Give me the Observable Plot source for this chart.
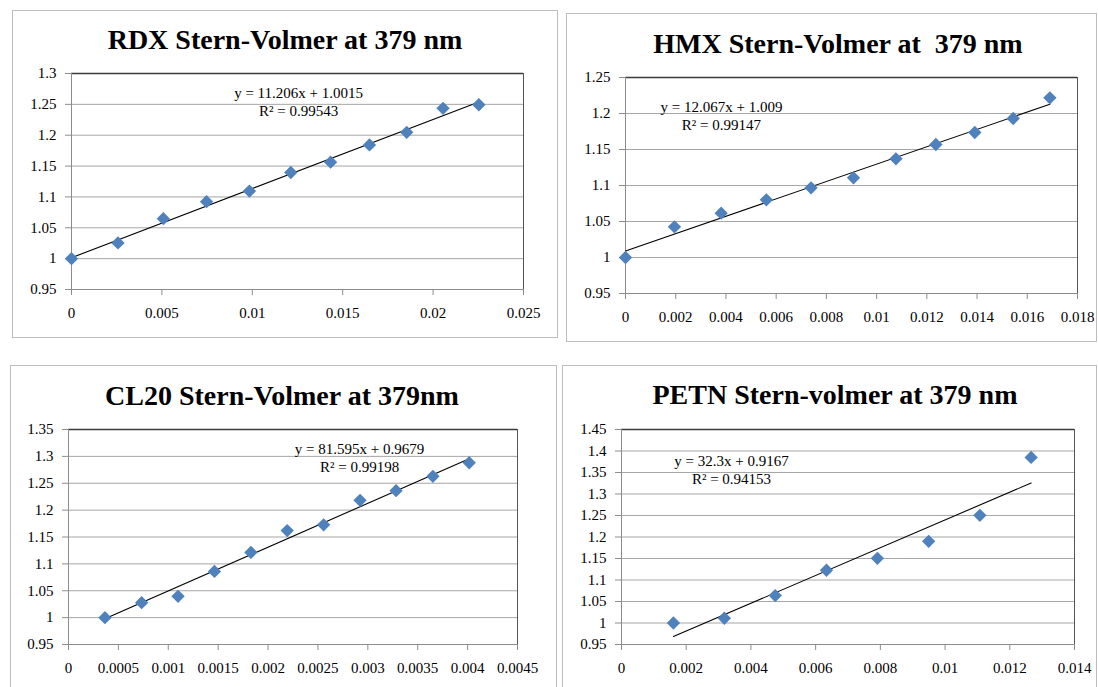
<!DOCTYPE html>
<html><head><meta charset="utf-8">
<script src="https://cdn.jsdelivr.net/npm/d3@7"></script>
<script src="https://cdn.jsdelivr.net/npm/@observablehq/plot@0.6"></script>
<style>
html,body{margin:0;padding:0;background:#fff;}
#root{position:relative;width:1098px;height:687px;overflow:hidden;font-family:"Liberation Serif",serif;}
.box{position:absolute;border:1.5px solid #bdbdbd;box-sizing:border-box;}
.title{position:absolute;width:520px;text-align:center;font-weight:bold;font-size:28px;line-height:28px;white-space:pre;color:#000;}
.chart{position:absolute;}
.chart svg{overflow:visible;max-width:none;background:transparent;font-family:"Liberation Serif",serif;}
.chart svg text{font-family:"Liberation Serif",serif;}
</style></head><body><div id="root"></div>
<script>
// ---- data ----
const rdxTitle = "RDX Stern-Volmer at 379 nm";
const rdxX = [0, 0.00257, 0.00508, 0.00747, 0.00984, 0.01213, 0.01433, 0.01648, 0.01854, 0.02055, 0.02253];
const rdxY = [1.0, 1.0255, 1.0648, 1.0923, 1.1095, 1.1396, 1.1563, 1.1843, 1.2047, 1.2435, 1.2494];
const rdxFit = [11.206, 1.0015];
const rdxEq = "y = 11.206x + 1.0015\nR² = 0.99543";
const rdxXTicks = [0, 0.005, 0.01, 0.015, 0.02, 0.025];
const rdxXLabels = ["0", "0.005", "0.01", "0.015", "0.02", "0.025"];
const rdxYTicks = [0.95, 1, 1.05, 1.1, 1.15, 1.2, 1.25, 1.3];
const rdxYLabels = ["0.95", "1", "1.05", "1.1", "1.15", "1.2", "1.25", "1.3"];

const hmxTitle = "HMX Stern-Volmer at  379 nm";
const hmxX = [0, 0.00195, 0.00381, 0.00561, 0.00739, 0.00908, 0.01077, 0.01236, 0.01391, 0.01544, 0.0169];
const hmxY = [1.0, 1.0426, 1.0616, 1.0801, 1.0968, 1.1106, 1.137, 1.1569, 1.1736, 1.1931, 1.2218];
const hmxFit = [12.067, 1.009];
const hmxEq = "y = 12.067x + 1.009\nR² = 0.99147";
const hmxXTicks = [0, 0.002, 0.004, 0.006, 0.008, 0.01, 0.012, 0.014, 0.016, 0.018];
const hmxXLabels = ["0", "0.002", "0.004", "0.006", "0.008", "0.01", "0.012", "0.014", "0.016", "0.018"];
const hmxYTicks = [0.95, 1, 1.05, 1.1, 1.15, 1.2, 1.25];
const hmxYLabels = ["0.95", "1", "1.05", "1.1", "1.15", "1.2", "1.25"];

const cl20Title = "CL20 Stern-Volmer at 379nm";
const cl20X = [0.000365, 0.000733, 0.001098, 0.001463, 0.001828, 0.002192, 0.002557, 0.002922, 0.003283, 0.003652, 0.004016];
const cl20Y = [1.0, 1.0279, 1.0396, 1.086, 1.1213, 1.162, 1.1726, 1.2183, 1.2362, 1.2628, 1.2882];
const cl20Fit = [81.595, 0.9679];
const cl20Eq = "y = 81.595x + 0.9679\nR² = 0.99198";
const cl20XTicks = [0, 0.0005, 0.001, 0.0015, 0.002, 0.0025, 0.003, 0.0035, 0.004, 0.0045];
const cl20XLabels = ["0", "0.0005", "0.001", "0.0015", "0.002", "0.0025", "0.003", "0.0035", "0.004", "0.0045"];
const cl20YTicks = [0.95, 1, 1.05, 1.1, 1.15, 1.2, 1.25, 1.3, 1.35];
const cl20YLabels = ["0.95", "1", "1.05", "1.1", "1.15", "1.2", "1.25", "1.3", "1.35"];

const petnTitle = "PETN Stern-volmer at 379 nm";
const petnX = [0.001605, 0.003178, 0.004751, 0.006335, 0.007908, 0.009492, 0.011075, 0.01266];
const petnY = [1.0, 1.0111, 1.0638, 1.1226, 1.1505, 1.19, 1.2503, 1.385];
const petnFit = [32.3, 0.9167];
const petnEq = "y = 32.3x + 0.9167\nR² = 0.94153";
const petnXTicks = [0, 0.002, 0.004, 0.006, 0.008, 0.01, 0.012, 0.014];
const petnXLabels = ["0", "0.002", "0.004", "0.006", "0.008", "0.01", "0.012", "0.014"];
const petnYTicks = [0.95, 1, 1.05, 1.1, 1.15, 1.2, 1.25, 1.3, 1.35, 1.4, 1.45];
const petnYLabels = ["0.95", "1", "1.05", "1.1", "1.15", "1.2", "1.25", "1.3", "1.35", "1.4", "1.45"];

// ---- layout ----
const panels = [
  {title: rdxTitle, xs: rdxX, ys: rdxY, fit: rdxFit, eq: rdxEq, xt: rdxXTicks, xl: rdxXLabels, yt: rdxYTicks, yl: rdxYLabels,
   eqAt: [0.01256, 1.2545],
   box: [12, 10, 546, 328], titlePos: [25, 25.6],
   svg: [0, 0, 560, 340], m: [73, 37, 51, 71]},
  {title: hmxTitle, xs: hmxX, ys: hmxY, fit: hmxFit, eq: hmxEq, xt: hmxXTicks, xl: hmxXLabels, yt: hmxYTicks, yl: hmxYLabels,
   eqAt: [0.00382, 1.198],
   box: [566, 13, 531, 329], titlePos: [578, 29.6],
   svg: [560, 0, 538, 340], m: [77, 21, 47, 65]},
  {title: cl20Title, xs: cl20X, ys: cl20Y, fit: cl20Fit, eq: cl20Eq, xt: cl20XTicks, xl: cl20XLabels, yt: cl20YTicks, yl: cl20YLabels,
   eqAt: [0.002917, 1.299],
   box: [10, 365, 547, 330], titlePos: [22, 381.6],
   svg: [0, 360, 560, 327], m: [69, 43, 43, 68]},
  {title: petnTitle, xs: petnX, ys: petnY, fit: petnFit, eq: petnEq, xt: petnXTicks, xl: petnXLabels, yt: petnYTicks, yl: petnYLabels,
   eqAt: [0.0034, 1.357],
   box: [562, 365, 535, 330], titlePos: [575, 380.6],
   svg: [555, 360, 543, 327], m: [69, 24, 43, 66]}
];

const root = document.getElementById("root");
const FONT = "Liberation Serif";

for (const p of panels) {
  const box = document.createElement("div");
  box.className = "box";
  Object.assign(box.style, {left: p.box[0] + "px", top: p.box[1] + "px", width: p.box[2] + "px", height: p.box[3] + "px"});
  root.appendChild(box);

  const t = document.createElement("div");
  t.className = "title";
  t.textContent = p.title;
  Object.assign(t.style, {left: p.titlePos[0] + "px", top: p.titlePos[1] + "px"});
  root.appendChild(t);

  const pts = p.xs.map((x, i) => ({x, y: p.ys[i]}));
  const xMin = d3.min(p.xs), xMax = d3.max(p.xs);
  const trend = [xMin, xMax].map(x => ({x, y: p.fit[0] * x + p.fit[1]}));
  const xDom = [p.xt[0], p.xt[p.xt.length - 1]];
  const yDom = [p.yt[0], p.yt[p.yt.length - 1]];
  const xLab = new Map(p.xt.map((v, i) => [v, p.xl[i]]));
  const yLab = new Map(p.yt.map((v, i) => [v, p.yl[i]]));

  const chart = Plot.plot({
    width: p.svg[2], height: p.svg[3],
    marginTop: p.m[0], marginRight: p.m[1], marginBottom: p.m[2], marginLeft: p.m[3],
    style: {fontFamily: FONT, fontSize: "15px", color: "#000", background: "transparent", overflow: "visible"},
    x: {domain: xDom},
    y: {domain: yDom},
    marks: [
      Plot.gridY(p.yt, {stroke: "#a6a6a6", strokeOpacity: 1}),
      Plot.ruleY([yDom[1]], {stroke: "#3a3a3a", strokeWidth: 1.3}),
      Plot.ruleX([xDom[1]], {stroke: "#555"}),
      Plot.ruleX([xDom[0]], {stroke: "#8c8c8c"}),
      Plot.ruleY([yDom[0]], {stroke: "#8c8c8c"}),
      Plot.axisX(p.xt, {tickFormat: d => xLab.get(d), tickSize: 6, tickPadding: 12, stroke: "#8c8c8c", fill: "#000", label: null, fontSize: 15, fontFamily: FONT, fontVariant: "normal"}),
      Plot.axisY(p.yt, {tickFormat: d => yLab.get(d), tickSize: 6, tickPadding: 9, stroke: "#8c8c8c", fill: "#000", label: null, fontSize: 15, fontFamily: FONT, fontVariant: "normal"}),
      Plot.line(trend, {x: "x", y: "y", stroke: "#000", strokeWidth: 1.1}),
      Plot.dot(pts, {x: "x", y: "y", symbol: "diamond2", r: 6, fill: "#4f81bd", stroke: "none"}),
      Plot.text([p.eq], {x: () => p.eqAt[0], y: () => p.eqAt[1], text: d => d, fontSize: 15, fontFamily: FONT, lineHeight: 1.2, fill: "#000"})
    ]
  });
  const wrap = document.createElement("div");
  wrap.className = "chart";
  Object.assign(wrap.style, {left: p.svg[0] + "px", top: p.svg[1] + "px", width: p.svg[2] + "px", height: p.svg[3] + "px"});
  wrap.appendChild(chart);
  root.appendChild(wrap);
}
</script>
</body></html>
